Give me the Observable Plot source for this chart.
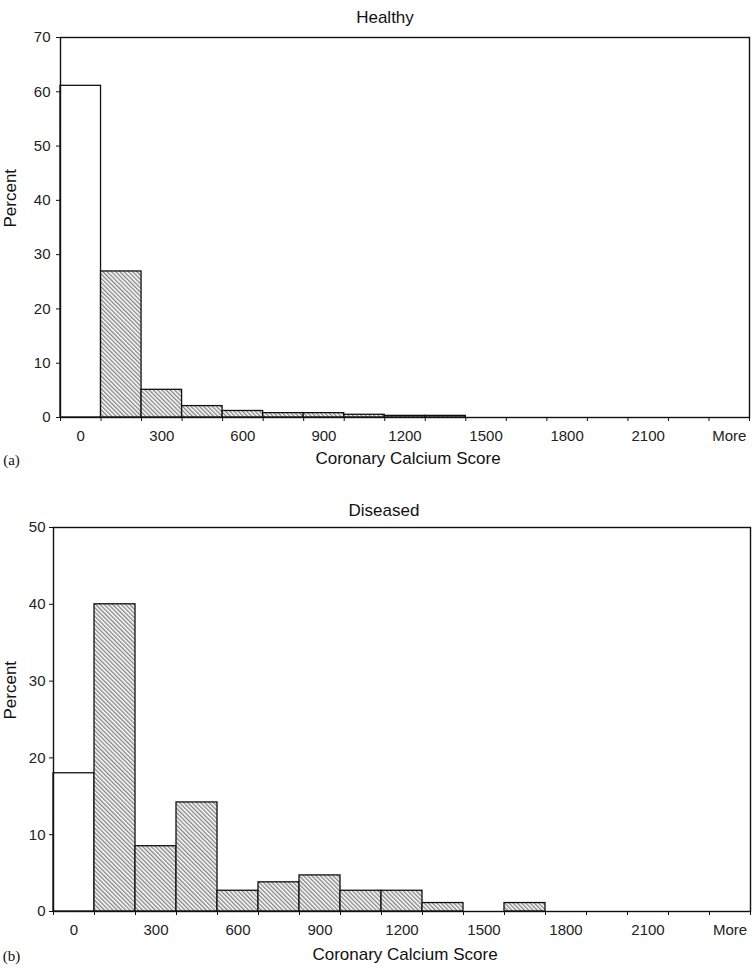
<!DOCTYPE html>
<html>
<head>
<meta charset="utf-8">
<script src="https://cdn.jsdelivr.net/npm/d3@7"></script>
<script src="https://cdn.jsdelivr.net/npm/@observablehq/plot@0.6"></script>
<style>
  html, body { margin: 0; padding: 0; background: #fff; }
  #wrap { width: 752px; height: 969px; position: relative; overflow: hidden; }
  #wrap svg { display: block; }
</style>
</head>
<body>
<div id="wrap"></div>
<script>
// ---- Data ----
const binLabels = ["0","150","300","450","600","750","900","1050","1200","1350","1500","1650","1800","1950","2100","2250","More"];
const tickLabels = ["0","300","600","900","1200","1500","1800","2100","More"];
const healthyPct = [61.1, 26.9, 5.1, 2.1, 1.2, 0.8, 0.8, 0.5, 0.3, 0.3, 0, 0, 0, 0, 0, 0, 0];
const diseasedPct = [18.0, 40.0, 8.5, 14.2, 2.7, 3.8, 4.7, 2.7, 2.7, 1.1, 0, 1.1, 0, 0, 0, 0, 0];
const titles = ["Healthy", "Diseased"];
const panelTags = ["(a)", "(b)"];
const xTitle = "Coronary Calcium Score";
const yTitle = "Percent";

const FONT = "'Liberation Sans', Arial, Helvetica, sans-serif";

function makeChart(values, opts) {
  const rows = values.map((v, i) => ({i, label: binLabels[i], v}));
  const zeroBin = rows.filter(d => d.i === 0);
  const restBins = rows.filter(d => d.i > 0 && d.v > 0);
  const boundaries = d3.range(0, binLabels.length + 1);
  const labelPos = binLabels.map((l, i) => i).filter(i => tickLabels.includes(binLabels[i]));
  const svg = Plot.plot({
    width: 752,
    height: opts.height,
    marginTop: opts.mt,
    marginBottom: opts.mb,
    marginLeft: opts.ml,
    marginRight: opts.mr,
    style: {fontFamily: FONT, fontSize: "15px", color: "#111", background: "#fff"},
    x: {domain: [0, binLabels.length]},
    y: {domain: [0, opts.ymax]},
    marks: [
      Plot.rectY(zeroBin, {x1: "i", x2: d => d.i + 1, y: "v", fill: "white", stroke: "#111", strokeWidth: 1.3}),
      Plot.rectY(restBins, {x1: "i", x2: d => d.i + 1, y: "v", fill: "url(#hatch)", stroke: "#111", strokeWidth: 1.3}),
      Plot.frame({stroke: "#111", strokeWidth: 1.4}),
      Plot.axisY({ticks: d3.range(0, opts.ymax + 1, 10), tickSize: 4, tickPadding: opts.ytp, label: null, fontSize: 15, fill: "#222"}),
      Plot.axisX({ticks: boundaries, tickSize: 4, tickFormat: () => "", label: null}),
      Plot.axisX({ticks: labelPos.map(i => i + 0.5), tickSize: 0, tickPadding: 13, tickFormat: x => binLabels[Math.floor(x)], label: null, fontSize: 15, fill: "#222"}),
      Plot.text([opts.title], {frameAnchor: "top", dx: opts.titleDx, dy: opts.titleDy, fontSize: 17, fill: "#111"}),
      Plot.text([xTitle], {frameAnchor: "bottom", dx: 3, dy: opts.xlabDy, fontSize: 17, fill: "#111"}),
      Plot.text([yTitle], {frameAnchor: "left", dx: -(opts.ml - 10), rotate: -90, fontSize: 17, fill: "#111"}),
      Plot.text([opts.tag], {frameAnchor: "bottom-left", dx: -(opts.ml - 11), dy: opts.xlabDy + 1, textAnchor: "middle", fontSize: 15, fontFamily: "'Liberation Serif', 'Times New Roman', serif", fill: "#111"})
    ]
  });
  // add hatch pattern defs
  const s = d3.select(svg);
  const defs = s.insert("defs", ":first-child");
  const pat = defs.append("pattern")
    .attr("id", "hatch")
    .attr("patternUnits", "userSpaceOnUse")
    .attr("width", 3).attr("height", 3)
    .attr("patternTransform", "rotate(-45)");
  pat.append("rect").attr("width", 3).attr("height", 3).attr("fill", "#fff");
  pat.append("line").attr("x1", 0.75).attr("y1", 0).attr("x2", 0.75).attr("y2", 3)
    .attr("stroke", "#666").attr("stroke-width", 1.1);
  return svg;
}

const wrap = document.getElementById("wrap");
wrap.appendChild(makeChart(healthyPct, {height: 480, mt: 37, mb: 63, ml: 60, mr: 3, ymax: 70, ytp: 6, title: titles[0], tag: panelTags[0], titleDx: -20, titleDy: -27, xlabDy: 46}));
wrap.appendChild(makeChart(diseasedPct, {height: 489, mt: 47, mb: 58, ml: 53, mr: 2, ymax: 50, ytp: 4, title: titles[1], tag: panelTags[1], titleDx: -18, titleDy: -24, xlabDy: 48}));
</script>
</body>
</html>
